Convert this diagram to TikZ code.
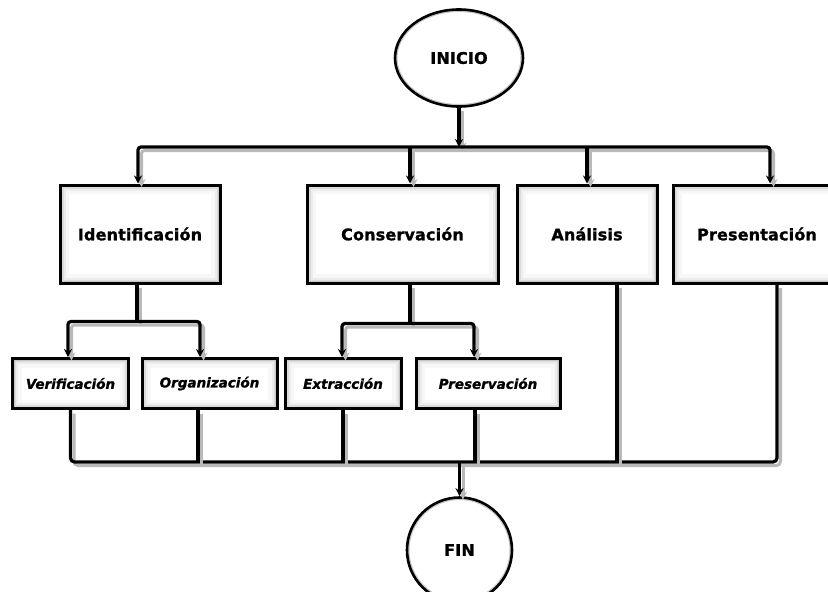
\documentclass[tikz,border=0pt]{standalone}
\usepackage{fontspec}
\setmainfont{DejaVu Sans}
\usetikzlibrary{arrows.meta,shapes.geometric,calc}

\begin{document}
\begin{tikzpicture}[x=1pt,y=-1pt,
	conn/.style={line width=3.2pt, preaction={draw=gray!55, line width=3pt, transform canvas={shift={(3.5pt,-3.5pt)}}}},
	arr/.style={conn, -{Stealth[length=8pt,width=8pt]}},
	arrs/.style={conn, {Stealth[length=8pt,width=8pt]}-{Stealth[length=8pt,width=8pt]}, rounded corners=3pt},
	glowbox/.style={path picture={
			\draw[gray!6, line width=18pt] (path picture bounding box.south west) rectangle (path picture bounding box.north east);
			\draw[gray!15, line width=11pt] (path picture bounding box.south west) rectangle (path picture bounding box.north east);
			\draw[gray!28, line width=7pt] (path picture bounding box.south west) rectangle (path picture bounding box.north east);
			\draw[gray!45, line width=4pt] (path picture bounding box.south west) rectangle (path picture bounding box.north east);}},
	glowround/.style={path picture={
			\path let \p1=($(path picture bounding box.north east)-(path picture bounding box.center)$) in
			[draw=gray!6, line width=22pt] (path picture bounding box.center) ellipse [x radius=\x1, y radius=\y1]
			[draw=gray!15, line width=14pt] (path picture bounding box.center) ellipse [x radius=\x1, y radius=\y1]
			[draw=gray!28, line width=9pt] (path picture bounding box.center) ellipse [x radius=\x1, y radius=\y1]
			[draw=gray!45, line width=5pt] (path picture bounding box.center) ellipse [x radius=\x1, y radius=\y1];}},
	stagebox/.style={rectangle, draw, line width=3pt, fill=white, glowbox, minimum height=98pt,
		font=\fontsize{16}{19}\selectfont\bfseries\addfontfeature{LetterSpace=1,FakeBold=1.2}},
	substagebox/.style={rectangle, draw, line width=3pt, fill=white, glowbox, minimum height=50pt,
		font=\fontsize{13.5}{16}\selectfont\bfseries\itshape\addfontfeature{FakeBold=1.2}},
	terminal/.style={draw, line width=2.6pt, fill=white, glowround,
		font=\fontsize{16}{19}\selectfont\bfseries\addfontfeature{LetterSpace=1,FakeBold=1.2}}
	]
	\useasboundingbox (0,0) rectangle (828,592);
	
	\node[terminal, ellipse, minimum width=128pt, minimum height=97pt] (inicio) at (459,58) {INICIO};
	
	\node[stagebox, minimum width=160pt] (ident) at (140,234) {Identificación};
	\node[stagebox, minimum width=191pt] (conserv) at (402.5,234) {Conservación};
	\node[stagebox, minimum width=140pt] (analisis) at (587,234) {Análisis};
	\node[stagebox, minimum width=168pt] (present) at (757,234) {Presentación};
	
	\node[substagebox, minimum width=116pt] (verif) at (70.5,383.5) {Verificación};
	\node[substagebox, minimum width=135pt] (organ) at (209.5,383.5) {Organización};
	\node[substagebox, minimum width=116pt] (extrac) at (343,383.5) {Extracción};
	\node[substagebox, minimum width=144pt] (preserv) at (488,383.5) {Preservación};
	
	\node[terminal, circle, minimum size=105pt] (fin) at (459.5,550) {FIN};
	
	\coordinate (bustop) at (458,147);
	\coordinate (busbot) at (459,462);
	\coordinate (ident-in) at ([xshift=-2pt]ident.north);
	\coordinate (conserv-in) at ([xshift=7.5pt]conserv.north);
	\coordinate (present-in) at ([xshift=13pt]present.north);
	\coordinate (ident-out) at ([xshift=-3pt]ident.south);
	\coordinate (conserv-out) at ([xshift=7.5pt]conserv.south);
	\coordinate (analisis-out) at ([xshift=30pt]analisis.south);
	\coordinate (present-out) at ([xshift=20pt]present.south);
	\coordinate (verif-in) at ([xshift=-2.5pt]verif.north);
	\coordinate (organ-in) at ([xshift=-9.5pt]organ.north);
	\coordinate (extrac-in) at ([xshift=-1pt]extrac.north);
	\coordinate (preserv-in) at ([xshift=-14pt]preserv.north);
	\coordinate (organ-out) at ([xshift=-11.5pt]organ.south);
	\coordinate (preserv-out) at ([xshift=-13pt]preserv.south);
	
	% arranque
	\draw[arr] (inicio.south) -- (inicio.south |- bustop);
	\draw[arrs] (ident-in) |- (bustop) -| (present-in);
	\draw[arr] (conserv-in |- bustop) -- (conserv-in);
	\draw[arr] (analisis.north |- bustop) -- (analisis.north);
	
	% subetapas
	\draw[conn] (ident-out) -- ++(0,37) coordinate (teeI);
	\draw[arrs] (verif-in) |- (teeI) -| (organ-in);
	\draw[conn] (conserv-out) -- ++(0,39) coordinate (teeC);
	\draw[arrs] (extrac-in) |- (teeC) -| (preserv-in);
	
	% cierre
	\draw[conn, rounded corners=4pt] (verif.south) |- (present-out |- busbot) -- (present-out);
	\draw[conn] (organ-out) -- (organ-out |- busbot);
	\draw[conn] (extrac.south) -- (extrac.south |- busbot);
	\draw[conn] (preserv-out) -- (preserv-out |- busbot);
	\draw[conn] (analisis-out) -- (analisis-out |- busbot);
	\draw[arr] (fin.north |- busbot) -- (fin.north);
\end{tikzpicture}
\end{document}
